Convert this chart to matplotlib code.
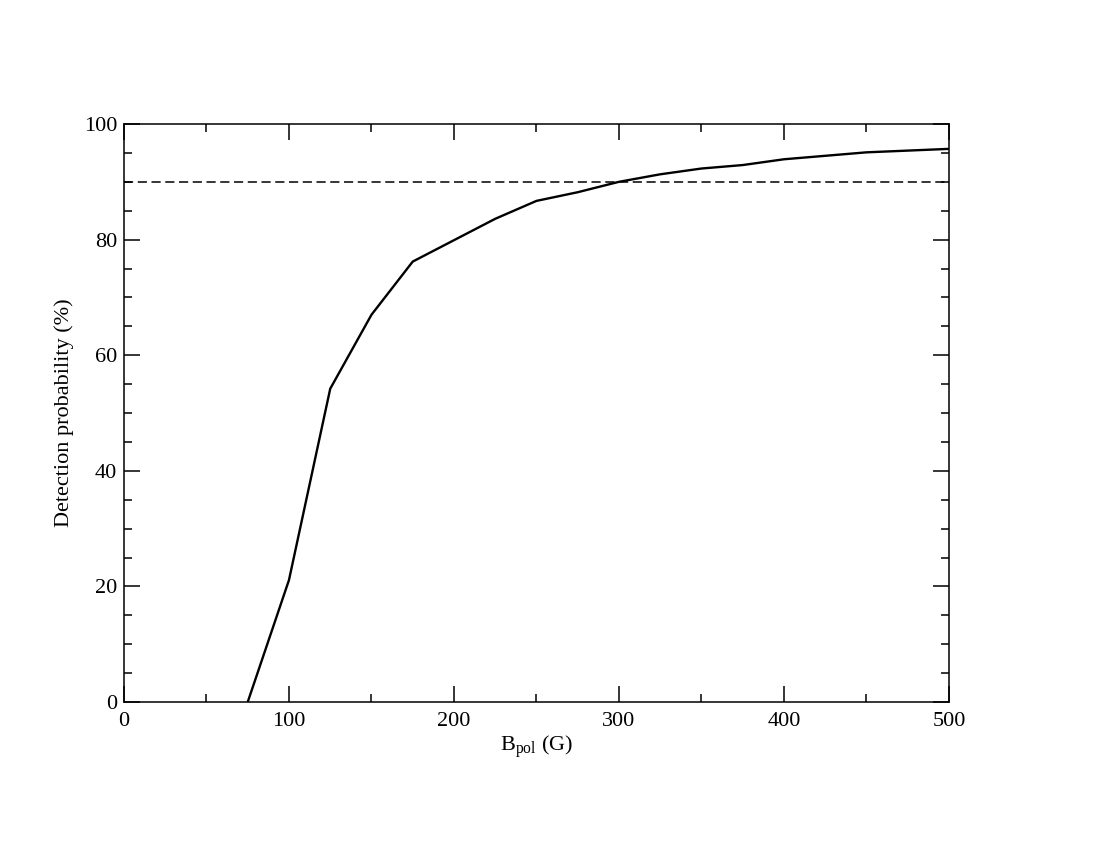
import matplotlib
matplotlib.use("Agg")
import matplotlib.pyplot as plt
from matplotlib.ticker import MultipleLocator

# Data
b_pol = [75, 100, 125, 150, 175, 200, 225, 250, 275, 300, 325, 350, 375, 400, 425, 450, 475, 500]
prob = [0.0, 21.1, 54.2, 67.0, 76.2, 79.9, 83.6, 86.7, 88.2, 90.0, 91.3, 92.3, 92.9, 93.9, 94.5, 95.1, 95.4, 95.7]
threshold = 90.0

plt.rcParams['font.family'] = ['Liberation Serif', 'DejaVu Serif']

fig = plt.figure(figsize=(11, 8.5), dpi=100)
ax = fig.add_axes([0.1127, 0.1741, 0.75, 0.68])

ax.plot(b_pol, prob, color='black', linewidth=1.7)
ax.axhline(threshold, color='black', linewidth=1.1, linestyle=(0, (6, 3)))

ax.set_xlim(0, 500)
ax.set_ylim(0, 100)
ax.xaxis.set_major_locator(MultipleLocator(100))
ax.xaxis.set_minor_locator(MultipleLocator(50))
ax.yaxis.set_major_locator(MultipleLocator(20))
ax.yaxis.set_minor_locator(MultipleLocator(5))

ax.tick_params(which='both', direction='in', top=True, right=True, width=1.1, labelsize=16)
ax.tick_params(axis='x', pad=7)
ax.tick_params(axis='y', pad=5)
ax.tick_params(which='major', length=11.5)
ax.tick_params(which='minor', length=5.8)
for s in ax.spines.values():
    s.set_linewidth(1.1)

ax.set_xlabel(r'B$_{\mathregular{pol}}$ (G)', fontsize=16, labelpad=2)
ax.set_ylabel('Detection probability (%)', fontsize=16, labelpad=7)

fig.savefig('out.png', dpi=100)
